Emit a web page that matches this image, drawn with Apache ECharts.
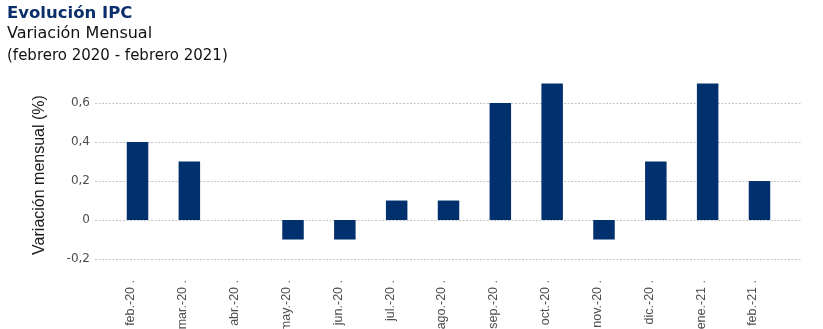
<!DOCTYPE html>
<html>
<head>
<meta charset="utf-8">
<script src="https://cdn.jsdelivr.net/npm/echarts@6/dist/echarts.min.js"></script>
<style>html,body{margin:0;padding:0;background:#fff;}#c{width:823px;height:329px;}</style>
</head>
<body>
<div id="c"></div>
<script>
const categories = ['feb.-20','mar.-20','abr.-20','may.-20','jun.-20','jul.-20','ago.-20','sep.-20','oct.-20','nov.-20','dic.-20','ene.-21','feb.-21'];
const values = [0.4, 0.3, 0, -0.1, -0.1, 0.1, 0.1, 0.6, 0.7, -0.1, 0.3, 0.7, 0.2];
const yTicks = [-0.2, 0, 0.2, 0.4, 0.6];
const titleText = 'Evolución IPC';
const subtitle1 = 'Variación Mensual';
const subtitle2 = '(febrero 2020 - febrero 2021)';
const yTitle = 'Variación mensual (%)';

const chart = echarts.init(document.getElementById('c'), null, {renderer:'canvas'});
function fmt(v){
  const r = Math.round(v*10)/10;
  if (r === 0) return '0';
  return r.toFixed(1).replace('.', ',');
}
chart.setOption({
  animation:false,
  backgroundColor:'#fff',
  grid:[
    {left:95, right:21, top:103.3, bottom:70, containLabel:false, outerBoundsMode:'none'},
    {left:111.6, right:37.6, top:83.6, bottom:70, containLabel:false, outerBoundsMode:'none'}
  ],
  xAxis:[
    {gridIndex:0, type:'value', show:false, min:0, max:1},
    {gridIndex:1, type:'category', data:categories,
     axisLine:{show:false}, axisTick:{show:false},
     axisLabel:{rotate:90, margin:21, interval:0, color:'#4d4d4d',
       fontFamily:'Liberation Sans', fontSize:12.5, verticalAlign:'bottom',
       formatter:v=>v+' .'}}
  ],
  yAxis:[
    {gridIndex:0, type:'value', min:yTicks[0], max:yTicks[yTicks.length-1], interval:0.2,
     axisLine:{show:false}, axisTick:{show:false},
     axisLabel:{margin:5, color:'#4d4d4d', fontFamily:'DejaVu Sans', fontSize:12, formatter:fmt},
     splitLine:{show:true, lineStyle:{color:'#c4c4c4', width:1, type:[2,1.5]}}},
    {gridIndex:1, type:'value', min:-0.2, max:0.7, show:false, splitLine:{show:false}}
  ],
  series:[{
    type:'bar', xAxisIndex:1, yAxisIndex:1, data:values, barWidth:21.5,
    itemStyle:{color:'#00306e'}
  }],
  graphic:[
    {type:'text', left:7, top:5, style:{text:titleText, fontFamily:'DejaVu Sans', fontWeight:'bold', fontSize:16.5, fill:'#0b2f6b'}},
    {type:'text', left:7, top:25.5, style:{text:subtitle1, fontFamily:'DejaVu Sans', fontSize:16, fill:'#111'}},
    {type:'text', left:7, top:48.5, style:{text:subtitle2, fontFamily:'DejaVu Sans', fontSize:15, fill:'#111'}},
    {type:'text', x:40, y:175, rotation:Math.PI/2,
     style:{text:yTitle, fontFamily:'Liberation Sans', fontSize:16, fill:'#1a1a1a', align:'center', verticalAlign:'middle'}}
  ]
});
</script>
</body>
</html>
